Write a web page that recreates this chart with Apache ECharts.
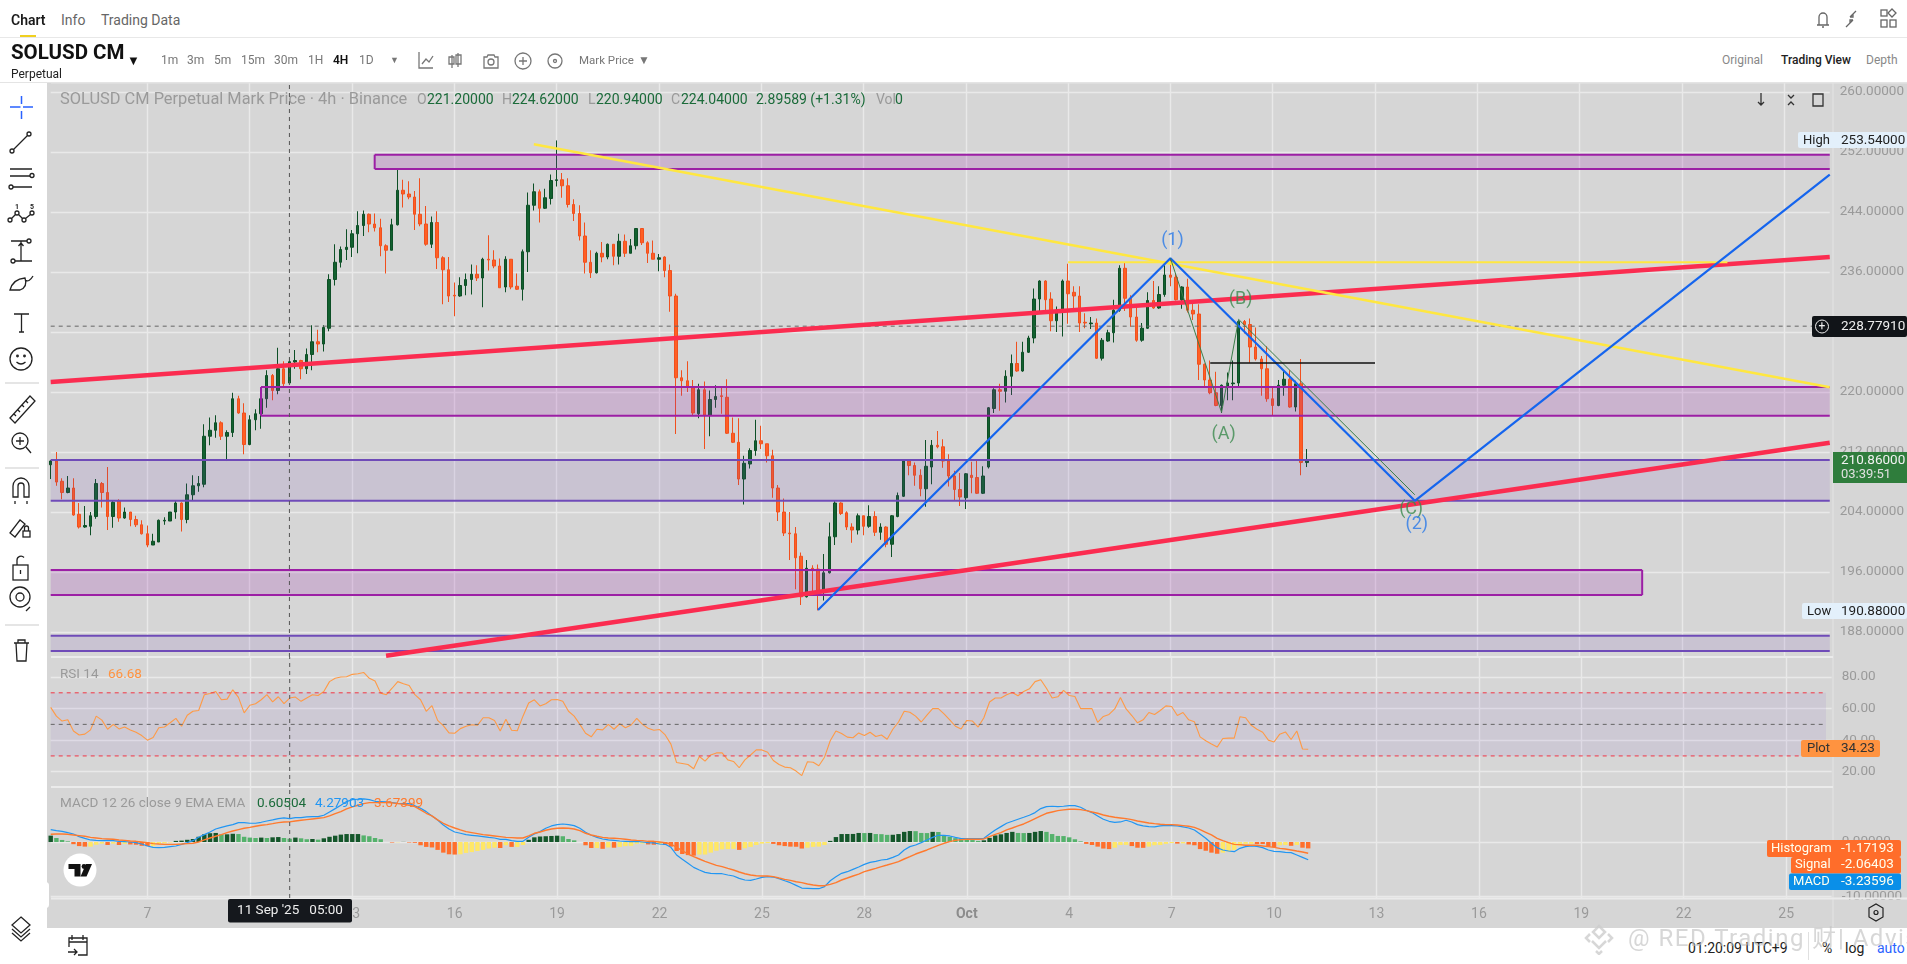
<!DOCTYPE html>
<html><head><meta charset="utf-8"><title>SOLUSD CM</title>
<script src="https://cdn.jsdelivr.net/npm/echarts@6/dist/echarts.min.js"></script>
<style>
html,body{margin:0;padding:0;width:1907px;height:964px;overflow:hidden;background:#d6d6d6;font-family:Roboto,"Noto Sans",sans-serif}
#c{position:absolute;left:0;top:0;width:1907px;height:964px}
.b{position:absolute;background:#fff;z-index:5}
.t{position:absolute;z-index:6;white-space:nowrap;font-size:12px;color:#777;line-height:16px;transform:translateY(-50%)}
svg.i{position:absolute;z-index:6;fill:none;stroke:#222;stroke-width:1.3}
</style></head><body>
<div id="c"></div>
<div class="b" style="left:0;top:0;width:1907px;height:37px;border-bottom:1px solid #e8e8e8"></div>
<div class="b" style="left:0;top:38px;width:1907px;height:44px;border-bottom:1px solid #e4e4e4"></div>
<div class="b" style="left:0;top:83px;width:47px;height:881px"></div>
<div class="b" style="left:47px;top:927.5px;width:1860px;height:37px"></div>
<div class="t" style="left:11px;top:20px;font-size:14px;color:#1a1a1a;font-weight:600">Chart</div>
<div class="t" style="left:61px;top:20px;font-size:14px;color:#666">Info</div>
<div class="t" style="left:101px;top:20px;font-size:14px;color:#666">Trading Data</div>
<div class="b" style="z-index:6;left:20px;top:35px;width:16px;height:2px;background:#f0d020"></div>
<div class="t" style="left:11px;top:52px;font-size:20.5px;color:#111;font-weight:700">SOLUSD CM</div>
<div class="t" style="left:127px;top:61px;font-size:13px;color:#111">▼</div>
<div class="t" style="left:11px;top:74px;font-size:12px;color:#222">Perpetual</div>
<div class="t" style="left:161px;top:60px">1m</div><div class="t" style="left:187px;top:60px">3m</div>
<div class="t" style="left:214px;top:60px">5m</div><div class="t" style="left:241px;top:60px">15m</div>
<div class="t" style="left:274px;top:60px">30m</div><div class="t" style="left:308px;top:60px">1H</div>
<div class="t" style="left:333px;top:60px;color:#111;font-weight:600">4H</div><div class="t" style="left:359px;top:60px">1D</div>
<div class="t" style="left:390px;top:60px;font-size:9px">▼</div>
<div class="t" style="left:579px;top:60px;font-size:11.5px">Mark Price</div>
<div class="t" style="left:638px;top:60px;font-size:12px">▼</div>
<div class="t" style="left:1722px;top:60px;font-size:12px;color:#888">Original</div>
<div class="t" style="left:1781px;top:60px;font-size:12px;color:#222;font-weight:500">Trading View</div>
<div class="t" style="left:1866px;top:60px;font-size:12px;color:#888">Depth</div>
<div class="t" style="left:1688px;top:948px;font-size:14px;color:#222">01:20:09 UTC+9</div>
<div class="t" style="left:1822px;top:948px;font-size:14px;color:#222">%</div>
<div class="t" style="left:1845px;top:948px;font-size:14px;color:#222">log</div>
<div class="t" style="left:1877px;top:948px;font-size:14px;color:#2962ff">auto</div>
<div class="b" style="z-index:6;left:1808px;top:932px;width:1px;height:28px;background:#e0e0e0"></div>
<div class="t" style="left:1628px;top:938px;font-size:24px;letter-spacing:1.5px;color:rgba(190,190,190,.62);z-index:7">@ RED Trading 财| Advis...</div>
<svg class="i" style="left:1583px;top:923px;z-index:7;stroke:rgba(205,205,205,.8);stroke-width:2.5" width="34" height="32" viewBox="0 0 34 32">
<path d="M16 3l6 6-6 6-6-6zM7 11l-4 4 4 4M25 11l4 4-4 4M9 18l7 7 7-7M13 28l3 3 3-3"/></svg>

<svg class="i" style="left:0;top:83px" width="47" height="600" viewBox="0 0 47 600">
<g stroke="#2962ff" stroke-width="1.5"><path d="M10 24h10.5M23 24h10M21.5 13v8M21.5 28v8"/></g>
<circle cx="29" cy="51" r="2"/><circle cx="12" cy="68" r="2"/><path d="M13.5 66.5L27.5 52.5"/>
<path d="M10 86h22M10 93h20M13 104h19"/><circle cx="32" cy="92.5" r="2"/><circle cx="11" cy="104" r="2"/>
<circle cx="10" cy="137" r="2"/><circle cx="17" cy="130" r="2"/><circle cx="24" cy="137" r="2"/><circle cx="32" cy="130" r="2"/><path d="M11.5 135.5l4-4M18.5 131.5l4 4M25.5 135.5l5-4"/>
<text x="15" y="126" font-size="7" font-weight="700" fill="#222" stroke="none">1</text><text x="30" y="126" font-size="7" font-weight="700" fill="#222" stroke="none">5</text>
<path d="M11 158h16M15 178h17M21 158v20M18.5 163l2.5-3 2.5 3"/><circle cx="29" cy="158" r="2"/><circle cx="13" cy="178" r="2"/>
<path d="M10 207q3-11 15-12q3 9-5 12zM25 197q4 3 8-4"/>
<path d="M14 231h15M21.5 231v18M19 249h5"/>
<circle cx="21" cy="276" r="11"/><circle cx="17.5" cy="273" r=".8"/><circle cx="24.5" cy="273" r=".8"/><path d="M16.5 279q4.5 4 9 0"/>
<path d="M5 300h34" stroke="#ddd"/>
<path d="M10 335l20-22 5 5-20 22zM14 331l2 2M18 327l2 2M22 322l2 2M26 318l2 2"/>
<circle cx="20" cy="358" r="8"/><path d="M26 364l5 6M16 358h8M20 354v8"/>
<path d="M5 385h34" stroke="#ddd"/>
<path d="M13 414v-11a8 8 0 0 1 16 0v11h-5v-11a3 3 0 0 0-6 0v11zM15 418v3M27 418v3"/>
<path d="M10 450l10-13 5 4-10 13z"/><rect x="23" y="448" width="7" height="6"/><path d="M24.5 448v-3a2 2 0 0 1 4 0v3"/>
<rect x="13" y="482" width="15" height="15"/><path d="M17 482v-5a4 4 0 0 1 7-2.5M20.5 487v4"/>
<circle cx="20" cy="514" r="10"/><circle cx="20" cy="514" r="4"/><path d="M26 528l4-4"/>
<path d="M5 542h34" stroke="#ddd"/>
<path d="M14 560h15M16 560l1 18h9l1-18M18 560v-3h7v3"/>
</svg>
<svg class="i" style="left:0;top:915px" width="100" height="49" viewBox="0 0 100 49">
<path d="M21 2l9 8-9 8-9-8zM12 14l9 8 9-8M12 18l9 8 9-8"/>
<path d="M69 32v-9h18v17h-9M72 20v5M83 20v5M69 27h18M68 37h9M74 34l3 3-3 3"/>
</svg>
<svg class="i" style="left:416px;top:50px;stroke:#777" width="240" height="22" viewBox="0 0 240 22">
<path d="M3 2v16h14M6 14l4-5 3 3 4-6"/>
<path d="M36 5v13M42 3v14M33 7h5v7h-5zM40 5h5v9h-5z"/>
<path d="M68 7h3l1-2h6l1 2h3v11h-14z"/><circle cx="75" cy="12" r="3"/>
<circle cx="107" cy="11" r="8"/><path d="M103 11h8M107 7v8"/>
<circle cx="139" cy="11" r="7"/><circle cx="139" cy="11" r="1.5"/>
</svg>
<svg class="i" style="left:1812px;top:7px;stroke:#666" width="90" height="24" viewBox="0 0 90 24">
<path d="M5 18h12M7 18v-8a4 4 0 0 1 8 0v8M10 20h2"/>
<path d="M38 10l6-6M34 20l7-7M38 10h3v-3M41 13h-3v3"/>
<rect x="69" y="3" width="6" height="6"/><path d="M80 2l4 4-4 4-4-4z"/><rect x="69" y="13" width="6" height="7"/><rect x="78" y="13" width="6" height="7"/>
</svg>
<svg class="i" style="left:1755px;top:90px;stroke:#333;z-index:4" width="75" height="20" viewBox="0 0 75 20">
<path d="M6 3v12M3 12l3 3 3-3M33 5l3 3 3-3M33 15l3-3 3 3"/>
<path d="M59 4h-1v12h10v-12zM61 4h5M61 16h5" stroke="#333"/>
</svg>
<script>
// ---- data ----
const candles = [ // [open, close, low, high]
[210.3,210.8,208.4,210.9],[210.8,208.0,207.5,212.0],[208.1,206.6,205.7,208.5],[206.6,207.2,206.5,208.8],[207.2,203.6,203.5,208.5],[203.7,202.0,201.8,205.2],[202.0,202.2,201.9,204.8],[202.1,203.5,200.9,204.0],[203.4,207.8,203.1,208.4],[207.8,206.6,204.6,208.0],
[206.6,203.4,201.6,210.0],[203.4,205.3,201.9,205.5],[205.5,203.2,202.7,205.7],[203.2,204.0,203.1,204.6],[204.0,203.0,202.1,204.0],[203.0,202.3,202.0,203.5],[202.3,201.1,201.0,202.9],[201.1,199.6,199.3,202.2],[199.6,200.1,199.6,201.1],[200.0,202.9,200.0,203.0],
[202.8,202.9,202.3,203.3],[202.8,204.0,202.8,204.0],[204.0,205.2,203.1,205.5],[205.2,203.0,201.4,205.3],[203.0,206.3,202.5,207.8],[206.3,207.5,205.5,208.9],[207.5,207.8,206.7,208.8],[207.7,214.1,207.3,215.7],[214.1,214.9,212.9,216.6],[214.9,215.9,213.9,216.9],
[215.9,214.1,213.6,216.1],[214.1,214.6,210.8,214.9],[214.6,219.1,214.0,219.9],[219.1,217.2,217.1,219.5],[217.2,213.0,211.7,218.5],[213.0,216.3,212.9,216.9],[216.3,217.1,214.9,217.7],[217.1,219.1,215.1,220.2],[219.1,222.2,217.9,222.9],[222.2,220.2,218.9,222.4],
[220.2,223.1,219.7,225.9],[223.1,221.1,220.6,224.1],[221.2,224.04,220.94,224.62],[224.0,224.2,223.1,225.6],[224.2,223.1,221.7,224.3],[223.1,225.0,222.4,225.8],[225.0,226.7,222.9,228.9],[226.7,226.4,225.3,228.3],[226.4,228.6,225.4,228.9],[228.5,235.0,228.1,235.7],
[235.0,237.3,234.2,239.7],[237.3,239.0,236.6,239.4],[239.0,239.3,237.6,241.7],[239.3,241.1,238.0,241.6],[241.1,242.2,238.5,244.1],[242.2,243.7,240.8,244.2],[243.7,242.4,241.3,243.8],[242.4,241.9,241.4,243.8],[241.9,239.5,238.1,243.1],[239.5,238.9,235.8,239.7],
[238.9,242.3,238.9,243.1],[242.3,246.9,242.2,249.7],[246.9,246.4,244.6,248.3],[246.4,246.0,245.7,248.1],[246.0,243.7,241.6,246.8],[243.7,242.4,242.1,248.5],[242.4,239.7,239.5,244.8],[239.7,242.6,239.2,243.4],[242.6,237.9,236.4,244.1],[237.9,236.3,231.7,238.1],
[236.3,232.8,232.0,238.0],[232.9,232.8,230.1,234.6],[232.8,234.2,232.7,235.3],[234.2,235.0,232.9,235.8],[235.0,235.7,233.0,237.0],[235.7,235.2,234.8,236.9],[235.2,237.7,231.3,237.9],[237.7,237.6,236.2,240.9],[237.6,236.8,236.5,238.9],[236.8,233.9,233.9,237.8],
[234.0,237.7,233.3,238.1],[237.7,234.0,233.7,237.7],[234.1,233.7,233.6,235.8],[233.7,238.7,232.2,239.0],[238.7,244.9,236.0,246.6],[244.9,246.7,244.2,247.8],[246.7,244.5,242.6,247.0],[244.5,245.9,244.4,247.1],[245.8,248.2,245.0,249.0],[248.2,248.3,247.4,253.54],
[248.3,247.5,245.9,249.2],[247.5,245.0,244.6,248.5],[245.0,243.8,242.8,245.7],[243.8,240.8,240.2,244.9],[240.8,237.3,235.8,242.6],[237.3,235.9,235.2,238.9],[235.9,238.5,235.8,238.7],[238.5,238.0,237.3,240.0],[238.0,239.7,237.7,239.8],[239.7,238.1,236.9,239.7],
[238.1,240.1,237.0,241.1],[240.1,238.5,238.0,241.0],[238.5,239.5,238.5,240.4],[239.5,241.8,239.0,241.8],[241.8,239.9,239.6,241.8],[239.9,238.5,237.2,240.1],[238.5,237.7,237.7,240.2],[237.7,237.9,236.1,238.4],[238.0,236.2,235.3,238.1],[236.2,232.8,230.7,237.0],
[232.8,221.9,214.4,233.1],[221.9,221.5,219.5,222.9],[221.5,220.7,220.0,224.1],[220.7,217.2,216.8,221.6],[217.1,220.3,216.5,221.1],[220.3,216.9,212.4,221.4],[216.9,219.0,214.1,220.2],[219.0,219.4,217.9,220.9],[219.5,219.4,217.1,220.6],[219.3,214.5,214.4,221.7],
[214.5,213.3,213.2,216.6],[213.3,208.4,207.6,216.5],[208.4,210.5,205.0,211.5],[210.4,212.2,209.8,212.5],[212.2,213.5,211.5,216.3],[213.5,213.1,212.4,215.5],[213.1,211.5,210.6,213.1],[211.5,207.2,205.9,212.3],[207.2,204.0,202.8,207.6],[204.0,201.2,200.8,205.8],
[201.2,201.1,197.6,204.0],[201.1,197.9,193.7,202.0],[198.1,192.7,191.6,198.6],[192.7,196.5,192.6,197.6],[196.5,196.4,193.3,196.9],[196.4,193.3,190.88,197.0],[193.3,195.9,192.2,198.4],[195.9,200.7,195.8,202.6],[200.7,205.2,199.6,205.5],[205.2,203.8,203.6,205.3],
[203.9,202.0,201.6,204.1],[202.0,201.6,199.9,202.5],[201.6,203.5,201.0,203.8],[203.5,202.1,200.9,203.5],[202.1,203.4,201.9,204.9],[203.4,201.3,200.8,204.1],[201.3,202.0,200.3,202.5],[202.0,199.7,199.3,202.1],[199.7,203.5,198.0,203.6],[203.4,206.2,203.3,206.6],
[206.1,210.8,206.0,210.9],[210.8,210.2,208.9,210.9],[210.2,208.9,207.5,210.6],[208.9,207.1,206.1,209.7],[207.1,210.1,204.7,213.6],[210.0,212.9,207.7,213.6],[212.9,212.7,212.5,214.8],[212.7,210.8,209.9,213.7],[210.8,208.8,207.4,211.7],[208.8,207.0,205.6,209.5],
[207.0,206.0,204.8,209.2],[205.9,209.1,204.4,209.2],[208.9,208.6,206.5,210.7],[208.6,206.5,206.4,210.8],[206.5,208.8,206.4,210.1],[210.0,217.9,209.8,218.0],[217.8,220.3,217.2,220.5],[220.3,220.1,217.5,221.1],[220.1,222.1,218.6,222.9],[222.1,223.8,219.6,225.0],
[223.8,222.8,222.7,226.7],[222.8,225.3,222.7,226.7],[225.3,227.2,225.2,227.5],[227.2,232.4,226.5,233.8],[232.4,234.8,230.8,234.9],[234.8,232.3,230.8,234.9],[232.4,229.5,228.1,233.3],[229.5,230.9,228.0,231.4],[230.8,234.8,227.4,235.0],[234.8,233.1,229.1,237.1],
[233.3,232.8,230.8,234.1],[232.8,229.2,228.0,234.1],[229.3,229.2,228.5,230.5],[229.1,229.2,228.4,230.0],[229.2,224.5,224.4,229.8],[224.5,226.9,224.2,227.2],[226.8,227.9,226.7,228.3],[227.9,230.9,226.6,232.3],[230.9,236.5,230.7,236.9],[236.5,232.5,230.8,237.2],
[232.5,230.0,228.7,232.9],[230.0,226.9,226.7,231.2],[226.9,228.5,226.7,229.2],[228.5,232.2,228.4,233.3],[232.2,231.2,231.1,234.8],[231.2,233.0,231.1,234.1],[233.0,235.6,232.7,236.9],[235.6,235.3,234.1,237.8],[235.3,232.3,232.2,235.8],[232.3,234.0,231.1,234.1],
[234.0,230.9,230.6,235.1],[230.9,230.4,229.6,231.8],[230.4,223.7,221.6,231.7],[223.7,221.6,220.7,223.8],[221.6,219.9,219.7,224.2],[219.9,218.2,218.1,222.7],[218.2,220.9,217.2,221.0],[220.8,221.2,218.9,222.6],[221.1,221.2,218.9,224.2],[221.2,229.4,220.7,229.6],
[229.4,229.0,227.8,229.6],[229.0,226.0,223.9,229.8],[226.0,224.4,224.2,228.6],[224.4,223.1,219.5,224.8],[223.1,219.1,218.7,226.1],[219.1,218.2,216.9,220.6],[218.2,220.9,218.1,221.6],[220.9,221.7,219.5,222.8],[221.7,218.0,217.9,222.9],[218.0,221.1,217.4,221.5],
[221.1,210.6,208.9,224.4],[210.6,210.86,210.0,212.4]];
const rsi = [
60.8,55.2,52.1,52.9,45.8,43.3,43.8,46.5,55.2,52.7, 46.9,50.0,47.1,48.3,46.5,45.0,42.9,40.0,41.7,47.9,
48.3,51.0,53.8,48.8,55.8,58.3,58.8,68.8,69.6,70.8, 65.6,66.0,71.9,67.1,57.3,62.1,63.1,65.6,68.8,64.2,
67.5,63.1,66.68,67.3,64.6,66.7,68.8,68.3,70.8,77.1, 79.2,80.0,80.2,81.7,82.1,82.9,79.2,77.5,69.8,68.8,
72.9,77.1,75.8,74.6,68.8,65.6,58.3,61.9,52.5,49.2, 44.6,44.4,47.3,48.8,49.8,49.4,54.2,54.2,52.5,45.8,
53.3,46.3,46.0,55.2,63.5,65.6,61.7,63.1,65.6,65.8, 64.6,58.3,55.2,50.0,44.4,42.1,46.9,46.5,50.0,46.9,
50.4,47.9,49.6,53.8,50.0,47.5,46.3,46.7,43.3,37.5, 25.8,25.2,24.6,21.9,29.6,26.7,30.6,31.9,31.9,27.5,
26.5,22.5,27.5,30.6,33.8,33.8,32.3,27.1,24.6,22.9, 22.5,20.4,17.5,26.3,26.0,23.8,29.2,39.6,45.8,44.2,
41.9,41.5,44.6,42.9,45.0,42.3,43.3,40.6,46.9,51.5, 58.3,57.7,55.2,51.5,55.8,60.0,60.0,56.7,52.9,48.8,
47.1,52.5,52.1,48.3,54.2,64.2,66.7,66.7,68.8,70.2, 68.1,70.8,72.5,77.1,78.3,72.9,66.7,67.5,71.5,68.3,
67.7,60.0,60.0,60.0,51.3,55.0,56.3,59.8,67.1,59.8, 55.6,51.0,52.9,57.5,56.3,58.8,61.7,61.3,55.6,57.5,
52.9,51.7,42.1,39.6,37.5,35.6,41.0,41.3,41.3,54.8, 54.2,49.4,46.9,45.0,40.0,38.8,43.8,45.2,40.4,45.8,
34.4,34.23];
const macdLine = [
2.26,2.07,1.95,1.71,1.46,.98,.67,.37,.30,.24, .30,.24,.12,.06,0,-.12,-.37,-.73,-.98,-1.04,
-.98,-.85,-.73,-.43,-.12,.24,.85,1.34,1.83,2.38, 2.68,2.93,3.17,3.54,3.54,3.42,3.42,3.6,3.84,4.03,
4.27,4.39,4.27903,4.45,4.45,4.58,4.64,4.64,4.88,5.49, 6.1,6.71,7.38,7.75,7.81,7.87,7.75,7.44,7.38,7.32,
7.2,7.08,7.02,7.02,6.59,6.16,5.55,4.76,4.03,3.11, 2.38,1.83,1.59,1.34,1.22,1.1,.98,.85,.73,.49,
.49,.24,.12,.12,.85,1.46,1.89,2.5,2.93,3.17, 3.29,3.17,2.99,2.5,1.77,1.22,.85,.55,.37,.3,
.18,.12,.06,.12,0,-.12,-.18,-.37,-.43,-.98, -2.38,-3.17,-3.9,-4.64,-5.12,-5.55,-5.73,-5.8,-5.8,-6.04,
-6.22,-6.65,-6.95,-7.02,-6.77,-6.47,-6.34,-6.41,-6.71,-7.08, -7.44,-7.93,-8.42,-8.48,-8.54,-8.54,-8.17,-7.08,-6.34,-5.73,
-5.43,-5.0,-4.58,-4.09,-3.72,-3.54,-3.29,-3.17,-2.81,-2.38, -1.46,-.85,-.55,-.12,.37,.85,1.22,1.22,1.1,.85,
.61,.61,.61,.61,.67,1.46,2.2,2.81,3.42,3.78, 4.15,4.51,4.88,5.37,6.1,6.47,6.53,6.47,6.53,6.65,
6.65,6.34,5.8,5.37,4.76,4.15,3.78,3.6,3.66,3.97, 3.66,3.17,2.93,2.81,2.75,2.93,3.05,2.99,2.93,2.75,
2.56,2.2,1.46,.67,-.24,-1.04,-1.46,-1.65,-1.77,-1.16, -.85,-.73,-.79,-1.04,-1.46,-1.71,-1.77,-1.89,-1.95,-2.38,
-2.81,-3.23596];
const signalLine = [
1.4,1.46,1.46,1.4,1.28,1.16,1.04,.85,.73,.61, .55,.49,.37,.3,.18,.12,0,-.12,-.3,-.37,
-.43,-.43,-.43,-.37,-.3,-.24,0,.37,.73,1.04, 1.34,1.71,2.01,2.26,2.5,2.68,2.87,3.05,3.17,3.35,
3.54,3.66,3.67399,3.84,3.97,4.09,4.21,4.33,4.45,4.76, 5.19,5.55,6.04,6.41,6.71,7.02,7.2,7.2,7.2,7.2,
7.14,7.02,6.89,6.71,6.47,5.86,5.25,4.76,4.03,3.42, 2.93,2.56,2.2,1.89,1.71,1.53,1.34,1.22,1.1,.98,
.85,.79,.73,.73,1.1,1.59,1.83,2.14,2.38,2.5, 2.56,2.5,2.38,2.07,1.59,1.28,1.04,.85,.73,.67,
.61,.49,.37,.3,.24,.12,.12,0,-.12,-.37, -.98,-1.59,-2.2,-2.68,-3.11,-3.54,-3.9,-4.27,-4.51,-4.82,
-5.12,-5.49,-5.8,-6.04,-6.16,-6.22,-6.22,-6.34,-6.59,-6.83, -7.02,-7.26,-7.44,-7.69,-7.87,-7.99,-7.99,-7.75,-7.44,-6.95,
-6.59,-6.22,-5.86,-5.43,-5.12,-4.82,-4.51,-4.21,-3.9,-3.6, -3.11,-2.68,-2.2,-1.83,-1.46,-1.04,-.61,-.24,.06,.3,
.43,.49,.49,.49,.55,.98,1.4,1.71,2.2,2.56, 2.93,3.29,3.78,4.27,4.76,5.25,5.49,5.73,5.86,5.98,
5.98,5.92,5.73,5.49,5.25,4.94,4.7,4.51,4.39,4.27, 4.09,3.84,3.66,3.48,3.35,3.23,3.17,3.17,3.11,2.99,
2.87,2.68,2.26,1.77,1.28,.67,.24,-.12,-.43,-.49, -.61,-.61,-.61,-.73,-.85,-.98,-1.16,-1.28,-1.46,-1.65,
-1.83,-2.06403];
const histogram = [
1.16,.73,.37,.12,-.4,-.75,-.85,-.85,-.5,-.3, -.55,-.3,-.55,-.35,-.45,-.5,-.7,-.75,-.75,-.35,
-.25,-.1,.2,.25,.4,.55,.95,1.4,1.6,1.65, 1.4,1.4,1.5,1.45,.95,.8,.73,.8,.73,.85,
.9,.73,.60504,.8,.67,.5,.55,.43,.67,.95, 1.15,1.35,1.45,1.45,1.45,1.2,1.05,.73,.5,0,
-.1,-.05,.02,-.1,-.15,-.6,-.9,-1,-1.45,-1.95, -2.25,-2.3,-2.25,-2,-1.85,-1.65,-1.45,-1.2,-1.05,-1.1,
-.6,-.9,-.9,-.55,.4,.85,1,1.05,1.1,1.15, 1.05,.55,.3,0,-.6,-1.1,-1.1,-1.25,-1,-1.05,
-.9,-.75,-.7,-.35,-.3,-.45,-.5,-.4,-.5,-.85, -1.65,-2.2,-2.4,-2.5,-2.3,-2.3,-1.95,-1.6,-1.35,-1.3,
-1.25,-1.45,-1.15,-.9,-.55,-.3,-.2,-.35,-.6,-.75, -.85,-.87,-1.2,-1.05,-.9,-.85,-.55,.2,.9,1.45,
1.46,1.47,1.65,1.63,1.65,1.45,1.43,1.3,1.32,1.45, 1.85,2,1.98,1.65,1.63,1.85,1.83,1.2,.95,.7,
.55,.5,.35,.2,.3,.75,1.2,1.4,1.65,1.85, 1.65,1.63,1.65,1.85,2,1.85,1.45,1.1,1.08,.85,
.5,.12,-.35,-.55,-.85,-1.2,-1.3,-1.05,-.55,-.53, -.75,-1.05,-1.07,-.85,-.6,-.55,-.35,-.2,-.3,-.25,
-.45,-.6,-1.3,-1.6,-1.95,-2.15,-1.95,-1.75,-1.45,-.75, -.35,-.33,-.37,-.38,-.85,-.95,-.6,-.55,-.7,-.55,
-1.05,-1.17193];
const dayTickLabels = ['7','10','13','16','19','22','25','28','Oct','4','7','10','13','16','19','22','25'];
const priceTicks = [188,196,204,212,220,228,236,244,252,260];
const rsiTicks = [20,40,60,80];
const macdTicks = [-10,0];
const crosshairIdx = 42;
const lastPrice = 228.7791;
// zones: [startIdx, top, endIdx, bottom]
const purpleZones = [[57,251.64,313,249.73],[37,220.67,313,216.84],[0,196.27,280,192.93]];
const violetZones = [[0,210.93,313,205.5],[0,187.5,313,185.47]];
// trend lines as [idx, price] pairs
const redLineA = [[0,221.33],[313,238]];
const redLineB = [[59.3,184.84],[313,213.24]];
const yellowLineA = [[85,253.03],[313,220.63]];
const yellowLineB = [[179,237.29],[295,237.29]];
const blueWave = [[135,190.93],[197,237.83],[240,205.5],[313,248.97]];
const greenWave = [[197,237.83],[206,217.29],[209,229.69],[240,206.3]];
const blackLine = [[204,223.87],[233,223.87]];
const waveLabels = [['(1)',197,240.17,'#2979e8'],['(B)',209,232.27,'#3b8a4e'],['(A)',206,214.27,'#3b8a4e'],['(C)',239,204.4,'#3b8a4e'],['(2)',240,202.4,'#2979e8']];

const N = 314, priceMin=184.67, priceMax=261.2, rsiMin=10.3, rsiMax=92.7, macdMin=-10.24, macdMax=10.05;
const categories = [];
for (let i=0;i<N;i++){ const d=new Date(Date.UTC(2025,8,4,4+4*i)); categories.push(d.toISOString().slice(0,13)); }
const tickAt = i => i>=17 && (i-17)%18===0;
const grids = [{top:83,height:574},{top:657,height:130},{top:787,height:111}].map(g=>({left:50.7,width:1780.97,top:g.top,height:g.height}));
const splitL = {show:true,lineStyle:{color:'#e9e9e9',width:1.4}};
const xAxes = [0,1,2].map(i=>({type:'category',gridIndex:i,data:categories,boundaryGap:false,
  axisLine:{show:false},axisTick:{show:false},
  splitLine:{...splitL,interval:(idx)=>tickAt(idx)},
  axisLabel: i===2 ? {show:true,interval:(idx)=>tickAt(idx),margin:9,color:'#9a9a9a',fontSize:14,fontFamily:'Roboto',
     formatter:(v,idx)=>{const s=dayTickLabels[(idx-17)/18];return s==='Oct'?'{b|Oct}':s;},rich:{b:{fontWeight:700,color:'#8c8c8c',fontSize:14,fontFamily:'Roboto'}}} : {show:false}}));
const yAxis = (gi,min,max,ticks,fmt)=>({type:'value',gridIndex:gi,position:'right',min,max,scale:true,
  axisLine:{show:false},axisTick:{show:false,customValues:ticks},splitLine:splitL,
  axisLabel:{customValues:ticks,margin:10,color:'#9a9a9a',fontSize:13.5,fontFamily:'Roboto',formatter:fmt}});
const dash = (gi,data,color)=>({type:'line',xAxisIndex:gi,yAxisIndex:gi,data,silent:true,showSymbol:false,symbol:'none',z:4,lineStyle:{color,width:1,type:[4,4]},animation:false});
const trend = (data,color,width,z=5)=>({type:'line',xAxisIndex:0,yAxisIndex:0,data,silent:true,showSymbol:false,symbol:'none',z,lineStyle:{color,width},animation:false,clip:true});
const area = (arr,fill)=>arr.map(a=>[{coord:[a[0],a[1]],itemStyle:{color:fill,borderWidth:0}},{coord:[a[2],a[3]]}]);
// outline of a zone: top and bottom always; a side only where the zone ends inside the plot
const outline = (arr,color)=>arr.flatMap(a=>{
  const segs=[[[a[0],a[1]],[a[2],a[1]]],[[a[0],a[3]],[a[2],a[3]]]];
  if(a[0]>0) segs.push([[a[0],a[1]],[a[0],a[3]]]);
  if(a[2]<N-1) segs.push([[a[2],a[1]],[a[2],a[3]]]);
  return segs.map(s=>trend(s,color,2,3));
});
const histColor = p=>{const i=p.dataIndex,v=histogram[i],prev=i?histogram[i-1]:v;return v>=0?(v>=prev?'#14562a':'#55b26c'):(v<prev?'#ff6f2c':'#ffe766');};

const T=(x,y,text,o={})=>({type:'text',z:o.z||60,silent:true,style:{x,y,text,fill:o.c||'#9a9a9a',font:`${o.w||400} ${o.s||14}px Roboto`,textVerticalAlign:'middle',textAlign:o.a||'left'}});
const R=(x,y,w,h,c,r=2,z=55)=>({type:'rect',z,silent:true,shape:{x,y,width:w,height:h,r},style:{fill:c}});
const L=(x1,y1,x2,y2,c,w=1)=>({type:'line',z:3,silent:true,shape:{x1,y1,x2,y2},style:{stroke:c,lineWidth:w}});
const gfx=[
 L(51,83,1907,83,'#e6e6e6',1),L(1833,83,1833,927,'#e4e4e4',1),L(51,657,1833,657,'#ebebeb',2),L(51,787,1833,787,'#ebebeb',2),L(51,898.5,1907,898.5,'#ebebeb',2),
 T(60,100,'SOLUSD CM Perpetual Mark Price · 4h · Binance',{s:16.4}),
 T(417,100,'O',{s:14}),T(427,100,'221.20000',{s:14,c:'#1b6b3a'}),
 T(502,100,'H',{s:14}),T(512,100,'224.62000',{s:14,c:'#1b6b3a'}),
 T(588,100,'L',{s:14}),T(596,100,'220.94000',{s:14,c:'#1b6b3a'}),
 T(671,100,'C',{s:14}),T(681,100,'224.04000',{s:14,c:'#1b6b3a'}),
 T(756,100,'2.89589 (+1.31%)',{s:14,c:'#1b6b3a'}),T(876,100,'Vol',{s:14}),T(895,100,'0',{s:14,c:'#1b6b3a'}),
 T(60,675,'RSI 14',{s:13.5}),T(108,675,'66.68',{s:13.5,c:'#ff9340'}),
 T(60,804,'MACD 12 26 close 9 EMA EMA',{s:13.5}),T(257,804,'0.60504',{s:13.5,c:'#1b6b3a'}),T(315,804,'4.27903',{s:13.5,c:'#2196f3'}),T(374,804,'3.67399',{s:13.5,c:'#ff7a2e'}),
 // price tags
 R(1798,132,109,16,'#e3f0fb'),T(1803,140.5,'High',{s:13,c:'#222'}),T(1841,140.5,'253.54000',{s:13.5,c:'#222'}),
 R(1802,603,105,16,'#e3f0fb'),T(1807,611.5,'Low',{s:13,c:'#222'}),T(1841,611.5,'190.88000',{s:13.5,c:'#222'}),
 R(1812,316,95,21,'#111418'),T(1841,327,'228.77910',{s:13.5,c:'#eee'}),
 {type:'circle',z:60,silent:true,shape:{cx:1822,cy:326.5,r:6.5},style:{fill:'none',stroke:'#eee',lineWidth:1}},T(1822,326.5,'+',{s:12,c:'#eee',a:'center'}),
 R(1833,452,74,31,'#2f7d3c',0),T(1841,461,'210.86000',{s:13.5,c:'#f2f2f2'}),T(1841,475,'03:39:51',{s:13,c:'#e0e0e0'}),
 R(1801,740,79,17,'#ff9340'),T(1807,748.5,'Plot',{s:13,c:'#333'}),T(1841,748.5,'34.23',{s:13.5,c:'#333'}),
 R(1767,840,134,17,'#ff6d2a'),T(1771,848.5,'Histogram',{s:13,c:'#ffe'}),T(1841,848.5,'-1.17193',{s:13.5,c:'#ffe'}),
 R(1791,857,110,16.5,'#ff6d2a'),T(1795,865,'Signal',{s:13,c:'#ffe'}),T(1841,865,'-2.06403',{s:13.5,c:'#ffe'}),
 R(1789,873.5,112,16.5,'#0a8fe8'),T(1793,882,'MACD',{s:13,c:'#ffe'}),T(1841,882,'-3.23596',{s:13.5,c:'#ffe'}),
 // crosshair time tag
 R(228,899,124,23.5,'#15181d',2),T(290,911,"11 Sep '25   05:00",{s:13.5,c:'#eee',a:'center'}),
 // logo + gear + handle
 {type:'circle',z:20,silent:true,shape:{cx:80,cy:870,r:16.5},style:{fill:'#fff'}},
 {type:'polygon',z:21,silent:true,shape:{points:[[68.5,864],[80.5,864],[80.5,876.5],[74.5,876.5],[74.5,869],[68.5,869]]},style:{fill:'#111'}},
 {type:'polygon',z:21,silent:true,shape:{points:[[80.5,876.5],[86,864],[92,864],[86.5,876.5]]},style:{fill:'#111'}},
 {type:'circle',z:21,silent:true,shape:{cx:84,cy:866.5,r:2.4},style:{fill:'#111'}},
 R(42,882,7,26,'#fff',4,20),T(45.5,894.5,'‹',{s:11,c:'#999',a:'center',z:21}),
 {type:'polygon',z:60,silent:true,shape:{points:[[1869,908],[1876,904],[1883,908],[1883,917],[1876,921],[1869,917]]},style:{fill:'none',stroke:'#222',lineWidth:1.2}},
 {type:'circle',z:60,silent:true,shape:{cx:1876,cy:912.5,r:2},style:{fill:'none',stroke:'#222',lineWidth:1.2}}
];
const option={animation:false,backgroundColor:'#d6d6d6',
 grid:grids,xAxis:xAxes,
 yAxis:[yAxis(0,priceMin,priceMax,priceTicks,v=>v.toFixed(5)),yAxis(1,rsiMin,rsiMax,rsiTicks,v=>v.toFixed(2)),yAxis(2,macdMin,macdMax,macdTicks,v=>v.toFixed(5))],
 graphic:{elements:gfx},
 series:[
  {type:'candlestick',xAxisIndex:0,yAxisIndex:0,data:candles.map(c=>[c[0],c[1],c[2],c[3]]),barWidth:3,z:2,silent:true,
   itemStyle:{color:'#12612f',color0:'#ff5f24',borderColor:'#0d4f26',borderColor0:'#f0501e',borderWidth:1}},
  {type:'line',xAxisIndex:0,yAxisIndex:0,data:[],z:3,silent:true,
   markArea:{silent:true,z:3,data:[...area(purpleZones,'rgba(156,39,176,0.2)'),...area(violetZones,'rgba(103,58,183,0.12)')]}},
  ...outline(purpleZones,'#9c1fa5'),...outline(violetZones,'#6f4bb8'),
  trend(redLineA,'#fb2c50',4.5),trend(redLineB,'#fb2c50',4.5),
  trend(yellowLineA,'#ffe740',2.4),trend(yellowLineB,'#ffe740',2),
  trend(blueWave,'#1565ee',2.2,6),trend(greenWave,'#3b7d4a',1,6),trend(blackLine,'#111111',1.4,6),
  dash(0,[[0,lastPrice],[313,lastPrice]],'#666'),
  dash(0,[[crosshairIdx,priceMin],[crosshairIdx,priceMax]],'#555'),
  dash(1,[[crosshairIdx,rsiMin],[crosshairIdx,rsiMax]],'#555'),
  dash(2,[[crosshairIdx,macdMin],[crosshairIdx,macdMax]],'#555'),
  {type:'scatter',xAxisIndex:0,yAxisIndex:0,symbolSize:1,z:7,silent:true,itemStyle:{color:'transparent'},
   data:waveLabels.map(w=>({value:[w[1],w[2]],label:{show:true,position:'inside',offset:[2,0],formatter:w[0],color:w[3],fontSize:18,fontFamily:'Roboto'}}))},
  {type:'line',xAxisIndex:1,yAxisIndex:1,data:rsi,showSymbol:false,symbol:'none',silent:true,z:3,lineStyle:{color:'#ff9a45',width:1.1},
   markArea:{silent:true,data:[[{coord:[0,70],itemStyle:{color:'rgba(126,87,194,0.1)'}},{coord:[312,30]}]]}},
  dash(1,[[0,70],[312,70]],'#f23645'),dash(1,[[0,50],[312,50]],'#666'),dash(1,[[0,30],[312,30]],'#f23645'),
  {type:'bar',xAxisIndex:2,yAxisIndex:2,data:histogram,barWidth:4.4,silent:true,z:2,itemStyle:{color:histColor}},
  {type:'line',xAxisIndex:2,yAxisIndex:2,data:macdLine,showSymbol:false,symbol:'none',silent:true,z:3,lineStyle:{color:'#2196f3',width:1.2}},
  {type:'line',xAxisIndex:2,yAxisIndex:2,data:signalLine,showSymbol:false,symbol:'none',silent:true,z:3,lineStyle:{color:'#ff7a2e',width:1.4}}
 ]};
const chart=echarts.init(document.getElementById('c'),null,{renderer:'canvas',width:1907,height:964});
chart.setOption(option);
</script></body></html>
